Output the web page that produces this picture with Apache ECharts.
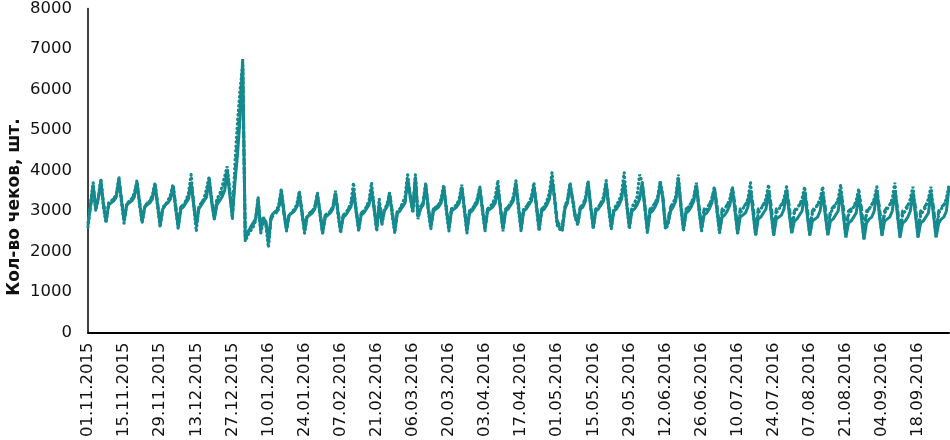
<!DOCTYPE html>
<html>
<head>
<meta charset="utf-8">
<script src="https://cdn.jsdelivr.net/npm/echarts@6/dist/echarts.min.js"></script>
<style>html,body{margin:0;padding:0;background:#fff;}#c{width:950px;height:440px;}</style>
</head>
<body>
<div id="c"></div>
<script>
// Start date of daily categories
var startDate = [2015, 11, 1];
var yTicks = [0, 1000, 2000, 3000, 4000, 5000, 6000, 7000, 8000];
var yAxisTitle = 'Кол-во чеков, шт.';

// Series 1 (solid) – weeks Sun..Sat
var solidValues = [
2650,3150,3650,3050,3300,3750,3150,
2750,3150,3200,3250,3350,3800,3250,
2750,3150,3200,3250,3350,3700,3200,
2750,3100,3150,3200,3300,3650,3150,
2650,3050,3150,3200,3300,3600,3100,
2600,3050,3100,3200,3300,3700,3150,
2650,3050,3150,3250,3350,3750,3200,
2800,3150,3250,3350,3500,3950,3400,
2850,3700,4400,5300,6750,2300,2450,
2600,2700,2800,3300,2500,2800,2750,
2200,2850,2950,3000,3100,3500,3000,
2550,2900,2950,3000,3100,3450,2950,
2500,2850,2900,2950,3050,3400,2950,
2450,2850,2900,2950,3050,3450,2950,
2500,2850,2900,3000,3100,3450,3000,
2550,2900,2950,3050,3150,3500,3050,
2550,3150,2700,3000,3100,3400,2950,
2500,2950,3000,3100,3200,3800,3350,
3000,3850,2850,3050,3150,3650,3050,
2600,3000,3050,3100,3200,3600,3050,
2550,3000,3050,3100,3200,3600,3050,
2500,2950,3000,3100,3200,3550,3050,
2550,3000,3050,3100,3200,3550,3050,
2550,3000,3050,3150,3250,3700,3100,
2550,3000,3050,3150,3250,3600,3100,
2550,3000,3050,3150,3300,3800,3300,
2700,2600,2550,3050,3200,3650,3300,
2850,2700,3050,3100,3250,3700,3100,
2600,3000,3050,3150,3250,3700,3100,
2600,3000,3050,3150,3300,3750,3150,
2600,3000,3050,3150,3300,3700,3100,
2500,2950,3000,3100,3250,3700,3300,
2600,2700,3000,3100,3250,3800,3100,
2550,2950,3000,3100,3250,3650,3050,
2550,2900,2950,3050,3200,3550,3000,
2500,2850,2900,3000,3150,3550,3000,
2450,2850,2900,2950,3100,3500,2950,
2400,2800,2850,2950,3050,3500,2950,
2400,2800,2850,2900,3050,3500,2950,
2450,2750,2800,2900,3000,3450,2900,
2400,2750,2800,2850,3000,3450,2900,
2400,2750,2800,2900,3000,3500,2900,
2350,2700,2750,2850,2950,3400,2850,
2300,2700,2800,2850,3000,3500,2900,
2400,2750,2800,2850,3000,3500,2900,
2350,2700,2750,2850,3000,3450,2900,
2350,2700,2750,2850,2950,3450,2900,
2350,2700,2800,2850,3000,3600
];

// Series 2 (dashed)
var dashedValues = [
2700,3100,3550,3100,3300,3700,3200,
2800,3150,3250,3300,3400,3750,3300,
2800,3150,3250,3300,3400,3700,3250,
2750,3100,3200,3250,3350,3650,3200,
2700,3100,3150,3250,3350,3650,3150,
2650,3100,3150,3250,3350,3700,3200,
2700,3100,3200,3300,3450,3800,3300,
2850,3250,3350,3450,3650,4000,3500,
2900,3900,4800,5600,6600,2400,2500,
2550,2650,2800,3200,2600,2850,2700,
2300,2800,2900,2950,3050,3400,2950,
2550,2900,2950,3000,3100,3400,3000,
2550,2900,2950,3000,3100,3400,3000,
2500,2900,2950,3000,3100,3400,3000,
2550,2900,2950,3050,3150,3500,3050,
2600,2950,3000,3100,3200,3550,3100,
2600,3200,2750,3050,3150,3450,3000,
2550,3000,3050,3150,3250,3750,3400,
3050,3800,2900,3100,3200,3600,3100,
2650,3050,3100,3150,3250,3550,3100,
2600,3050,3100,3150,3250,3550,3100,
2600,3000,3050,3150,3250,3550,3100,
2600,3050,3100,3150,3250,3600,3100,
2600,3050,3100,3200,3300,3650,3150,
2600,3050,3100,3200,3300,3600,3150,
2600,3050,3100,3200,3350,3750,3350,
2750,2650,2650,3100,3250,3600,3300,
2900,2800,3100,3150,3300,3650,3150,
2650,3050,3100,3200,3300,3650,3150,
2650,3050,3100,3200,3350,3700,3200,
2650,3050,3100,3200,3350,3650,3150,
2600,3050,3100,3200,3300,3650,3350,
2650,2800,3100,3200,3300,3700,3200,
2600,3050,3100,3200,3300,3600,3150,
2600,3050,3100,3150,3300,3550,3150,
2600,3050,3100,3150,3250,3550,3150,
2600,3050,3100,3150,3250,3500,3150,
2550,3050,3100,3150,3250,3500,3150,
2550,3050,3100,3150,3250,3500,3150,
2550,3000,3100,3150,3250,3500,3100,
2550,3000,3100,3150,3250,3450,3100,
2550,3000,3100,3150,3250,3500,3100,
2500,3000,3050,3100,3200,3450,3100,
2500,3000,3050,3150,3250,3500,3100,
2550,3000,3100,3150,3250,3500,3100,
2500,3000,3050,3150,3250,3450,3100,
2500,3000,3050,3150,3250,3450,3100,
2500,3000,3100,3150,3250,3550
];

// Series 3 (dotted)
var dottedValues = [
2600,3200,3700,3000,3350,3800,3100,
2700,3200,3250,3300,3400,3850,3200,
2700,3150,3250,3300,3450,3750,3150,
2700,3100,3200,3250,3400,3700,3100,
2600,3050,3150,3250,3400,3650,3050,
2550,3100,3150,3250,3450,3900,3150,
2500,3100,3200,3300,3550,3850,3250,
2800,3300,3400,3600,3850,4100,3500,
2800,4200,5200,6000,6600,2250,2400,
2500,2600,2750,3350,2450,2750,2650,
2100,2850,2950,3000,3150,3550,2950,
2500,2900,2950,3050,3150,3500,2950,
2450,2850,2950,3000,3100,3450,2900,
2450,2850,2900,3000,3100,3500,2900,
2450,2900,2950,3050,3200,3700,3000,
2500,2950,3000,3100,3250,3700,3050,
2500,3300,2650,3050,3150,3450,2900,
2450,3000,3050,3200,3350,3900,3350,
2950,3900,2800,3100,3200,3700,3000,
2550,3050,3100,3150,3300,3650,3000,
2500,3050,3100,3150,3300,3650,3000,
2450,3000,3050,3150,3300,3600,3000,
2500,3050,3100,3200,3350,3750,3050,
2500,3050,3100,3200,3350,3750,3050,
2500,3050,3100,3200,3350,3700,3050,
2500,3050,3100,3250,3450,3950,3300,
2650,2550,2500,3100,3300,3700,3250,
2850,2650,3100,3150,3350,3750,3100,
2550,3050,3100,3200,3350,3750,3050,
2550,3050,3150,3250,3450,3950,3150,
2550,3100,3200,3350,3900,3700,3100,
2450,3000,3100,3200,3350,3750,3350,
2550,2650,3050,3200,3350,3900,3100,
2500,3000,3100,3200,3350,3700,3050,
2500,3000,3050,3150,3300,3600,3000,
2450,2950,3050,3150,3300,3600,3000,
2450,2950,3050,3150,3300,3700,3000,
2400,2950,3050,3150,3300,3650,3000,
2400,2950,3050,3150,3300,3600,3000,
2450,2950,3050,3150,3300,3600,2950,
2400,2950,3050,3150,3300,3600,2950,
2400,2950,3050,3150,3300,3650,2950,
2350,2900,3000,3100,3250,3550,2950,
2300,2950,3050,3150,3300,3600,2950,
2400,2950,3050,3150,3300,3700,2950,
2350,2900,3000,3100,3300,3600,2950,
2350,2900,3000,3100,3300,3600,2950,
2350,2950,3050,3150,3300,3650
];

function pad(n){return (n<10?'0':'')+n;}
var categories = [];
(function(){
  var d = new Date(Date.UTC(startDate[0], startDate[1]-1, startDate[2]));
  for (var i = 0; i < solidValues.length; i++) {
    categories.push(pad(d.getUTCDate()) + '.' + pad(d.getUTCMonth()+1) + '.' + d.getUTCFullYear());
    d.setUTCDate(d.getUTCDate()+1);
  }
})();

var COLOR = '#158A8E';
var FONT = 'DejaVu Sans';
var chart = echarts.init(document.getElementById('c'), null, {renderer: 'canvas'});
chart.setOption({
  animation: false,
  backgroundColor: '#ffffff',
  grid: {left: 88, right: 1, top: 8, bottom: 105, containLabel: false},
  xAxis: {
    type: 'category',
    data: categories,
    boundaryGap: false,
    axisLine: {lineStyle: {color: '#000', width: 2}},
    axisTick: {show: false},
    axisLabel: {interval: 13, rotate: 90, margin: 10, fontSize: 16.5, fontFamily: FONT, color: '#111'},
    splitLine: {show: false}
  },
  yAxis: {
    type: 'value',
    min: yTicks[0],
    max: yTicks[yTicks.length-1],
    interval: yTicks[1]-yTicks[0],
    axisLine: {show: true, lineStyle: {color: '#000', width: 1.5}},
    axisTick: {show: false},
    axisLabel: {margin: 16, fontSize: 16.5, fontFamily: FONT, color: '#111', formatter: function(v){return String(v);}},
    splitLine: {show: false}
  },
  graphic: [{
    type: 'text',
    x: 15, y: 207,
    rotation: Math.PI/2,
    style: {text: yAxisTitle, font: 'bold 17px "DejaVu Sans"', fill: '#111', align: 'center', verticalAlign: 'middle'}
  }],
  series: [
    {type: 'line', data: dottedValues, symbol: 'none', lineStyle: {color: COLOR, width: 3.2, type: [0.5, 4], cap: 'round'}, z: 2},
    {type: 'line', data: dashedValues, symbol: 'none', lineStyle: {color: COLOR, width: 3, type: [6, 3]}, z: 3},
    {type: 'line', data: solidValues, symbol: 'none', lineStyle: {color: COLOR, width: 3}, z: 4}
  ]
});
</script>
</body>
</html>
